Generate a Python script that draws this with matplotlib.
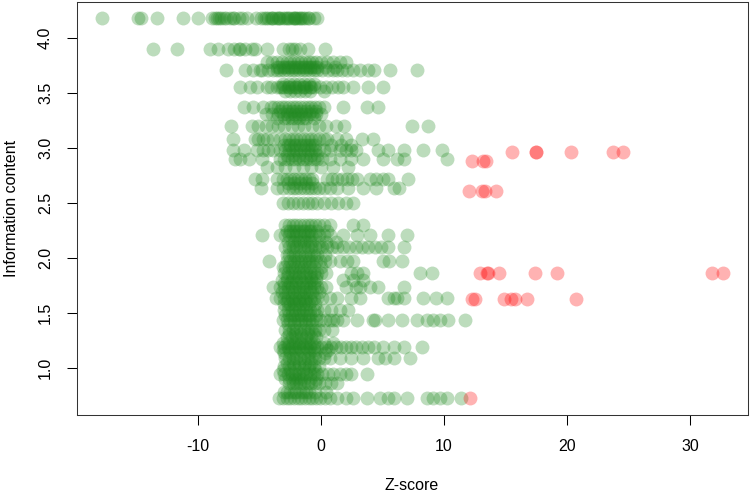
import matplotlib
matplotlib.use("Agg")
import matplotlib.pyplot as plt

plt.rcParams['font.family'] = ['Liberation Sans', 'DejaVu Sans']
plt.rcParams['axes.unicode_minus'] = False

# Z-scores of non-significant features, one list per information-content level
z_418 = [-17.8, -14.9, -14.6, -13.3, -11.2, -10.0, -8.9, -8.5, -8.1, -7.7, -7.4, -7.1, -6.7, -6.4,
         -6.0, -5.3, -4.9, -4.6, -4.3, -4.0, -3.7, -3.4, -3.1, -2.8, -2.5, -2.2, -1.9, -1.6, -1.3,
         -1.0, -0.6, -0.3, -4.5, -3.9, -3.3, -2.7, -2.1, -1.5, -8.6, -7.9, -7.2, -2.0, -1.1,
         -4.1, -3.5, -2.9, -2.3, -1.7, -8.3]
z_390 = [-13.7, -11.7, -9.0, -8.4, -7.6, -7.1, -6.7, -6.6, -6.2, -5.6, -5.4, -4.4, -3.1, -2.6, -2.4,
         -2.1, -1.7, -1.1, 0.3]
z_378 = [-4.4, -4.0, -3.6, -3.2, -2.8, -2.5, -2.2, -1.9, -1.6, -1.3, -1.0, -0.7, -0.4, 0.0, 0.5, 1.0,
         1.5, 2.0]
z_374 = [-3.6, -3.1, -2.7, -2.3, -1.9, -1.5, -1.1, -0.7, -0.3, 0.3, 1.1, -3.4, -2.9, -2.5, -2.1,
         -1.7, -1.3, -0.9, -0.5]
z_371 = [-7.7, -6.2, -5.5, -5.0, -4.8, -4.3, -3.9, -3.6, -3.3, -3.0, -2.7, -2.4, -2.1, -1.8, -1.5,
         -1.2, -0.9, -0.6, -0.3, 0.1, 0.6, 1.0, 1.3, 1.7, 2.1, 2.6, 3.2, 3.8, 4.3, 5.6, 7.8]
z_358 = [-3.1, -2.6, -2.2, -1.8, -1.4, -1.0, -0.6]
z_355 = [-6.6, -5.8, -5.2, -4.4, -4.1, -3.6, -3.3, -3.0, -2.7, -2.4, -2.1, -1.8, -1.5, -1.2, -0.9,
         -0.6, -0.1, 0.4, 0.9, 1.4, 1.8, 2.6, 3.8, 5.0, -3.2, -2.6, -2.0, -1.4, -0.8]
z_352 = [-2.9, -2.5, -2.1, -1.7, -1.3, -0.9, 0.2]
z_337 = [-6.3, -5.5, -4.7, -4.1, -3.8, -3.5, -3.2, -2.9, -2.6, -2.3, -2.0, -1.7, -1.4, -1.1, -0.8,
         -0.5, -0.2, 0.2, 1.8, 3.7, 4.6]
z_334 = [-3.3, -2.8, -2.4, -2.0, -1.6, -1.2, -0.8, -0.4]
z_331 = [-4.5, -4.0, -3.5, -3.1, -2.8, -2.5, -2.2, -1.9, -1.6, -1.3, -1.0, -0.7, -0.4, 0.0]
z_327 = [-3.6, -3.0, -2.4, -1.8, -1.2, -0.6, -2.7, -2.1, -1.5]
z_320 = [-7.3, -5.6, -5.1, -4.5, -4.0, -3.5, -3.0, -2.4, -1.9, -1.4, -0.7, -0.2, 0.4, 1.2, 1.9,
         7.4, 8.7]
z_308 = [-7.2, -5.4, -5.1, -4.7, -4.4, -3.9, -3.3, -2.9, -2.6, -2.3, -2.0, -1.7, -1.4, -1.1, -0.8,
         -0.5, -0.2, 0.2, 0.5, 1.3, 2.0, 3.3, 4.2]
z_303 = [-3.0, -2.5, -2.0, -1.5, -1.0, -0.5, 0.8, 1.6, 2.4, -2.7, -2.2, -1.7, -1.2, -0.7]
z_298 = [-7.2, -6.3, -5.2, -4.7, -4.3, -3.9, -3.3, -2.9, -2.6, -2.3, -2.0, -1.7, -1.4, -1.1, -0.8,
         -0.5, -0.2, 0.2, 0.7, 1.5, 2.0, 2.4, 2.8, 4.6, 5.4, 6.7, 8.3, 9.8]
z_294 = [-2.8, -2.3, -1.8, -1.3, -0.8, -0.3]
z_290 = [-7.0, -6.6, -5.9, -4.8, -3.3, -3.0, -2.7, -2.4, -2.1, -1.8, -1.5, -1.2, -0.9, -0.6, -0.3,
         0.1, 0.7, 1.5, 2.4, 3.4, 5.0, 6.2, 6.7, 10.2]
z_283 = [-4.4, -3.6, -2.9, -2.2, -1.5, -0.8, 0.0, 1.0, 2.2]
z_272 = [-5.4, -4.8, -3.6, -3.1, -2.8, -2.5, -2.2, -1.9, -1.6, -1.3, -1.0, -0.7, 0.5, 0.9, 1.3, 1.7,
         2.1, 2.5, 2.9, 4.0, 4.5, 5.0, 5.4, 7.1]
z_268 = [-2.7, -2.2, -1.7, -1.2, -0.7]
z_264 = [-4.9, -3.6, -3.1, -2.6, -2.3, -2.0, -1.7, -1.4, -1.1, -0.8, -0.5, -0.2, 0.2, 0.7, 1.3, 2.2,
         3.4, 4.5, 5.9, 6.3]
z_250 = [-3.1, -2.7, -2.3, -1.9, -1.5, -1.1, -0.7, -0.3, 0.2, 0.8, 1.4, 2.0, 2.6]
z_230 = [-2.9, -2.6, -2.3, -2.0, -1.7, -1.4, -1.1, -0.8, -0.5, -0.2, 0.2, 0.7, 2.6, 3.4]
z_225 = [-2.8, -2.3, -1.8, -1.3, -0.8, -0.3, 0.5, -2.5, -2.0, -1.5, -1.0]
z_221 = [-4.8, -3.3, -2.9, -2.6, -2.3, -2.0, -1.7, -1.4, -1.1, -0.8, -0.5, -0.2, 0.2, 0.7, 1.8, 2.9,
         4.0, 5.4, 7.0]
z_215 = [-2.7, -2.2, -1.7, -1.2, -0.7, -0.2, 0.4, 1.2, -2.4, -1.9, -1.4, -0.9]
z_210 = [-2.9, -2.6, -2.3, -2.0, -1.7, -1.4, -1.1, -0.8, -0.5, -0.2, 0.1, 0.5, 0.9, 1.3, 1.8, 2.3,
         2.8, 3.3, 3.8, 4.4, 4.9, 5.4, 6.7]
z_203 = [-2.8, -2.3, -1.8, -1.3, -0.8, -0.3, 0.3, -2.6, -2.1, -1.6, -1.1, -0.6]
z_197 = [-4.2, -2.8, -2.5, -2.2, -1.9, -1.6, -1.3, -1.0, -0.7, -0.4, -0.1, 0.3, 0.7, 1.5, 2.1, 2.6,
         5.0, 5.5, 6.6]
z_192 = [-3.1, -2.6, -2.1, -1.6, -1.1, -0.6, 0.0, -2.9, -2.4, -1.9, -1.4, -0.9]
z_186 = [-3.0, -2.7, -2.4, -2.1, -1.8, -1.5, -1.2, -0.9, -0.6, -0.3, 0.0, 0.4, 2.4, 2.9, 3.4, 8.0, 9.0]
z_183 = [-2.8, -2.3, -1.8, -1.3, -0.8, -0.4]
z_180 = [-3.2, -2.8, -2.4, -2.0, -1.6, -1.2, -0.8, -0.4, 1.8, 2.6, 3.4]
z_177 = [-3.0, -2.5, -2.0, -1.5, -1.0, -0.6]
z_174 = [-3.9, -3.3, -3.0, -2.7, -2.4, -2.1, -1.8, -1.5, -1.2, -0.9, -0.6, -0.3, 0.0, 0.4, 2.0, 2.8,
         3.2, 4.0, 4.6, 6.7]
z_169 = [-3.2, -2.7, -2.2, -1.7, -1.2, -0.7, -0.2, -2.9, -2.4, -1.9, -1.4, -0.9]
z_164 = [-3.7, -3.3, -3.0, -2.7, -2.4, -2.1, -1.8, -1.5, -1.2, -0.9, -0.6, -0.3, 0.1, 0.7, 1.3, 2.4,
         3.2, 5.4, 5.9, 6.2, 6.7, 8.3, 9.3, 10.2]
z_161 = [-2.8, -2.3, -1.8, -1.3, -0.8]
z_158 = [-3.0, -2.5, -2.0, -1.5, -1.0, -0.5, -2.7, -2.2, -1.7, -1.2]
z_153 = [-3.0, -2.7, -2.4, -2.1, -1.8, -1.5, -1.2, -0.9, -0.6, -0.3, 0.2, 0.8, 1.5, 2.2]
z_148 = [-2.9, -2.4, -1.9, -1.4, -0.9, -0.4, -2.6, -2.1, -1.6, -1.1]
z_144 = [-3.1, -2.8, -2.5, -2.2, -1.9, -1.6, -1.3, -1.0, -0.7, -0.4, -0.1, 0.3, 0.7, 1.0, 1.3, 1.8,
         2.9, 4.2, 4.4, 5.4, 6.6, 7.8, 8.6, 9.1, 9.7, 10.3, 11.7]
z_140 = [-2.7, -2.2, -1.7, -1.2, -0.7]
z_135 = [-2.9, -2.6, -2.3, -2.0, -1.7, -1.4, -1.1, -0.8, -0.5, -0.2, 0.2, 0.9]
z_131 = [-2.6, -2.1, -1.6, -1.1, -0.6]
z_128 = [-2.8, -2.4, -2.0, -1.6, -1.2, -0.8, -0.4]
z_123 = [-3.1, -2.6, -2.1, -1.6, -1.1, -0.6, 0.2, 1.0, -2.8, -2.3, -1.8, -1.3, -0.8]
z_119 = [-3.3, -3.0, -2.7, -2.4, -2.1, -1.8, -1.5, -1.2, -0.9, -0.6, -0.3, 0.0, 0.4, 0.8, 1.2, 1.6,
         2.0, 2.4, 2.8, 3.3, 3.8, 4.3, 5.0, 5.9, 6.7, 8.2]
z_116 = [-3.1, -2.6, -2.1, -1.6, -1.1, -0.6, 0.6]
z_114 = [-3.0, -2.5, -2.0, -1.5, -1.0, -0.5, 0.3]
z_109 = [-2.9, -2.6, -2.3, -2.0, -1.7, -1.4, -1.1, -0.8, -0.5, -0.2, 0.2, 0.7, 1.5, 2.4, 3.4, 4.6,
         5.2, 5.9, 7.2]
z_105 = [-2.8, -2.3, -1.8, -1.3, -0.8]
z_102 = [-3.0, -2.6, -2.2, -1.8, -1.4, -1.0, -0.6, -0.2]
z_098 = [-3.1, -2.5, -2.0, -1.5, -1.0, -0.5]
z_095 = [-3.3, -3.0, -2.7, -2.4, -2.1, -1.8, -1.5, -1.2, -0.9, -0.6, -0.3, 0.1, 0.6, 1.0, 1.5, 2.0,
         2.4, 3.7]
z_090 = [-2.9, -2.4, -1.9, -1.4, -0.9, -0.4, -2.6, -2.1, -1.6]
z_086 = [-2.6, -2.3, -2.0, -1.7, -1.4, -1.1, -0.8, -0.5, -0.2, 0.3, 0.8, 1.3]
z_078 = [-3.0, -2.5, -2.0, -1.5, -1.0, -0.5, 0.4, -2.8, -2.2, -1.7, -1.2]
z_073 = [-3.4, -3.1, -2.8, -2.5, -2.2, -1.9, -1.6, -1.3, -1.0, -0.7, -0.4, -0.1, 0.3, 0.7, 1.3, 2.0,
         2.6, 3.7, 4.8, 5.4, 5.9, 7.0, 8.6, 9.1, 9.7, 10.2, 11.4]

rows = [(4.18, z_418), (3.90, z_390), (3.78, z_378), (3.74, z_374), (3.71, z_371), (3.58, z_358),
        (3.55, z_355), (3.52, z_352), (3.37, z_337), (3.34, z_334), (3.31, z_331), (3.27, z_327),
        (3.20, z_320), (3.08, z_308), (3.03, z_303), (2.98, z_298), (2.94, z_294), (2.90, z_290),
        (2.83, z_283), (2.72, z_272), (2.68, z_268), (2.64, z_264), (2.50, z_250), (2.30, z_230),
        (2.25, z_225), (2.21, z_221), (2.15, z_215), (2.10, z_210), (2.03, z_203), (1.97, z_197),
        (1.92, z_192), (1.86, z_186), (1.83, z_183), (1.80, z_180), (1.77, z_177), (1.74, z_174),
        (1.69, z_169), (1.64, z_164), (1.61, z_161), (1.58, z_158), (1.53, z_153), (1.48, z_148),
        (1.44, z_144), (1.40, z_140), (1.35, z_135), (1.31, z_131), (1.28, z_128), (1.23, z_123),
        (1.19, z_119), (1.16, z_116), (1.14, z_114), (1.09, z_109), (1.05, z_105), (1.02, z_102),
        (0.98, z_098), (0.95, z_095), (0.90, z_090), (0.86, z_086), (0.78, z_078), (0.73, z_073)]

# significant features (red)
sig_z = [15.5, 17.5, 17.5, 20.3, 23.7, 24.5,
         12.3, 13.2, 13.4,
         12.0, 13.1, 13.3, 14.2,
         12.9, 13.5, 13.6, 14.5, 17.4, 19.2, 31.8, 32.7,
         12.3, 12.5, 14.9, 15.4, 15.8, 16.7, 20.7,
         12.1]
sig_ic = [2.96, 2.96, 2.96, 2.96, 2.96, 2.96,
          2.88, 2.88, 2.88,
          2.61, 2.61, 2.61, 2.61,
          1.86, 1.86, 1.86, 1.86, 1.86, 1.86, 1.86, 1.86,
          1.63, 1.63, 1.63, 1.63, 1.63, 1.63, 1.63,
          0.73]

green_z = []
green_ic = []
for ic, zs in rows:
    green_z += zs
    green_ic += [ic] * len(zs)

fig = plt.figure(figsize=(7.5, 4.92), dpi=100)
ax = fig.add_axes([77 / 750, 77 / 492, 671 / 750, 413 / 492])

ax.scatter(green_z, green_ic, s=100, color='forestgreen', alpha=0.3, linewidths=0)
ax.scatter(sig_z, sig_ic, s=100, color='red', alpha=0.3, linewidths=0)

ax.set_xlim(-19.84, 34.7)
ax.set_ylim(0.573, 4.327)
ax.set_xticks([-10, 0, 10, 20, 30])
ax.set_yticks([1.0, 1.5, 2.0, 2.5, 3.0, 3.5, 4.0])
ax.set_yticklabels(['1.0', '1.5', '2.0', '2.5', '3.0', '3.5', '4.0'])
ax.tick_params(direction='out', length=7.2, width=0.75, pad=10, labelsize=11.5)
ax.tick_params(axis='y', labelrotation=90)
for lab in ax.get_yticklabels():
    lab.set_verticalalignment('center')
for sp in ax.spines.values():
    sp.set_linewidth(0.75)
    sp.set_color('#333333')

fig.text(412 / 750, 1 - 485 / 492, 'Z-score', ha='center', va='center', fontsize=11.5)
fig.text(12 / 750, 1 - 208 / 492, 'Information content', ha='center', va='center',
         rotation=90, fontsize=11.5)

fig.savefig('out.png', dpi=100)
